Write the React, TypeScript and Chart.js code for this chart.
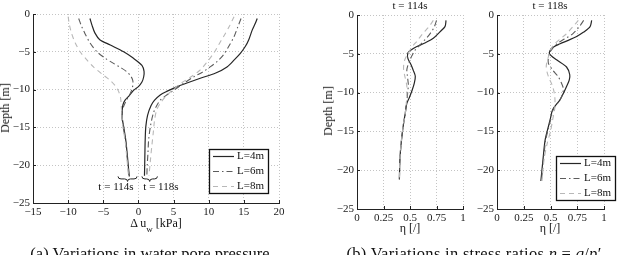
import React, { useEffect, useRef } from "react";
import { Chart, registerables } from "chart.js";
Chart.register(...registerables);

// ---------- DATA ----------
const seriesLabels = ["L=4m", "L=6m", "L=8m"];

// (a) water pore pressure variation, t = 114s
const depthA114L4 = [-0.6, -1.5, -2.5, -3.4, -4.1, -5, -5.8, -6.8, -7.6, -8.3, -9, -9.6, -10.1, -10.8, -11.4, -12, -12.7, -13.8, -14.9, -16.7, -18.5, -20, -21.5];
const duA114L4 = [-6.9, -6.6, -6.2, -5.5, -4.0, -2.1, -0.8, 0.5, 0.8, 0.75, 0.5, 0.0, -0.7, -1.3, -1.9, -2.2, -2.3, -2.3, -2.1, -1.8, -1.6, -1.45, -1.3];
const depthA114L6 = [-0.6, -1.6, -2.6, -3.8, -5, -5.8, -6.5, -7.1, -7.6, -8.2, -8.8, -9.4, -9.9, -10.6, -11.4, -12.2, -13, -14, -15, -16.7, -18.5, -20, -21.5];
const duA114L6 = [-8.5, -8.1, -7.6, -6.9, -5.9, -4.8, -3.6, -2.5, -1.7, -1.1, -0.8, -0.8, -0.9, -1.2, -1.7, -2.1, -2.3, -2.3, -2.15, -1.85, -1.65, -1.5, -1.35];
const depthA114L8 = [-0.35, -1.5, -2.6, -3.8, -5, -6, -7, -8, -8.8, -9.5, -10.1, -10.8, -11.4, -12.7, -14, -15, -16.7, -18.5, -20, -21.5];
const duA114L8 = [-10, -9.8, -9.5, -9.0, -8.3, -7.4, -6.4, -5.1, -4.0, -3.3, -2.9, -2.6, -2.5, -2.4, -2.3, -2.2, -1.9, -1.7, -1.55, -1.4];

// (a) water pore pressure variation, t = 118s
const depthA118L4 = [-0.6, -1.3, -2.1, -3.4, -4.3, -5.2, -6, -7, -7.8, -8.5, -9.1, -9.6, -10.2, -10.7, -11.4, -12.1, -13.4, -14.9, -16.7, -18.5, -20, -21.4];
const duA118L4 = [16.9, 16.6, 16.2, 15.7, 15.2, 14.5, 13.7, 12.6, 11, 8.8, 7, 5.5, 4.1, 3.1, 2.3, 1.8, 1.3, 1.05, 0.96, 0.92, 0.89, 0.86];
const depthA118L6 = [-0.6, -1.8, -3, -4.2, -5.4, -6.2, -7, -7.7, -8.3, -9.2, -10.1, -10.8, -11.4, -12.3, -13.2, -14.9, -16.7, -18.5, -20, -21.4];
const duA118L6 = [14.6, 14.1, 13.6, 12.9, 12.1, 11.3, 10.2, 9.1, 7.9, 6.4, 5, 3.9, 3.1, 2.5, 2.1, 1.7, 1.45, 1.35, 1.25, 1.2];
const depthA118L8 = [-0.35, -1.7, -3, -4.1, -5.2, -6.3, -7.4, -8.3, -9.2, -10.1, -11, -11.8, -12.7, -14, -15.8, -17.5, -19.4, -21.4];
const duA118L8 = [13.6, 12.9, 12.1, 11.4, 10.7, 9.8, 8.8, 7.5, 6, 4.8, 3.8, 3.1, 2.6, 2.3, 2.1, 1.9, 1.7, 1.5];

// (b) stress ratio, t = 114s
const depthB114L4 = [-0.7, -1.5, -2.2, -3, -3.6, -4.1, -4.5, -4.9, -5.6, -6.4, -7.1, -7.9, -8.8, -9.7, -10.6, -11.4, -12.7, -13.9, -16.1, -18.5, -21.2];
const etaB114L4 = [0.84, 0.83, 0.78, 0.72, 0.64, 0.56, 0.51, 0.48, 0.48, 0.51, 0.53, 0.55, 0.54, 0.52, 0.495, 0.47, 0.455, 0.44, 0.42, 0.405, 0.4];
const depthB114L6 = [-0.7, -1.5, -2.4, -3.5, -4.5, -5.2, -5.8, -6.5, -7.1, -7.8, -8.4, -9.1, -9.7, -10.5, -11.4, -12.7, -13.9, -16.1, -18.5, -21.2];
const etaB114L6 = [0.75, 0.73, 0.69, 0.62, 0.55, 0.52, 0.5, 0.48, 0.47, 0.475, 0.48, 0.485, 0.48, 0.475, 0.465, 0.455, 0.44, 0.42, 0.405, 0.4];
const depthB114L8 = [-0.7, -1.5, -2.4, -3.3, -4.1, -5, -5.8, -6.5, -7.1, -7.8, -8.4, -9.1, -9.7, -10.5, -11.4, -12.7, -13.9, -16.1, -18.5, -21.2];
const etaB114L8 = [0.72, 0.68, 0.62, 0.57, 0.52, 0.48, 0.45, 0.44, 0.44, 0.45, 0.46, 0.47, 0.47, 0.47, 0.465, 0.455, 0.44, 0.42, 0.405, 0.4];

// (b) stress ratio, t = 118s
const depthB118L4 = [-0.7, -1.5, -2.2, -2.8, -3.3, -3.7, -4.3, -5, -5.8, -6.7, -7.7, -8.4, -9.2, -10.1, -10.9, -12.2, -13.3, -14.4, -16.1, -18.6, -21.4];
const etaB118L4 = [0.885, 0.87, 0.81, 0.74, 0.66, 0.59, 0.51, 0.49, 0.56, 0.65, 0.68, 0.675, 0.65, 0.62, 0.59, 0.52, 0.5, 0.48, 0.45, 0.43, 0.41];
const depthB118L6 = [-0.7, -1.5, -2.4, -3.1, -3.7, -4.3, -4.9, -5.5, -6.2, -7.1, -7.9, -8.7, -9.5, -10.3, -10.9, -12.2, -13.3, -14.4, -16.1, -18.6, -21.4];
const etaB118L6 = [0.81, 0.77, 0.71, 0.63, 0.56, 0.52, 0.49, 0.48, 0.48, 0.52, 0.57, 0.6, 0.62, 0.61, 0.59, 0.525, 0.505, 0.485, 0.455, 0.435, 0.415];
const depthB118L8 = [-0.7, -1.5, -2.4, -3.1, -3.7, -4.5, -5.4, -6.7, -7.9, -9.2, -10.5, -12, -13.5, -15, -16.5, -18.6, -21.4];
const etaB118L8 = [0.76, 0.71, 0.65, 0.59, 0.54, 0.5, 0.48, 0.46, 0.48, 0.52, 0.54, 0.54, 0.52, 0.5, 0.47, 0.44, 0.42];

// axis ticks
const duTicks = [-15, -10, -5, 0, 5, 10, 15, 20];
const depthTicks = [-25, -20, -15, -10, -5, 0];
const etaTicks = [0, 0.25, 0.5, 0.75, 1];

// annotation (brace) ranges in Δu units and labels
const braceRanges = [[-2.9, -0.2], [0.5, 2.7]];
const braceLabelX = [-3.2, 3.2];
const braceLabels = ["t = 114s", "t = 118s"];
const braceDepth = -21.75;
const braceLabelDepth = -22.95;

// ---------- STYLE ----------
const FONT = "'Liberation Serif', 'Times New Roman', serif";
Chart.defaults.font.family = FONT;
const lineStyles = [
  { color: "#262626", dash: [] as number[], width: 1.2 },
  { color: "#5c5c5c", dash: [6, 3, 1.5, 3], width: 1.1 },
  { color: "#b8b8b8", dash: [5, 4], width: 1.1 },
];

function pts(xs: number[], ys: number[]) {
  return xs.map((x, i) => ({ x, y: ys[i] }));
}

function ds(label: string, idx: number, xs: number[], ys: number[]) {
  const s = lineStyles[idx];
  return {
    label,
    data: pts(xs, ys),
    showLine: true,
    borderColor: s.color,
    borderWidth: s.width,
    borderDash: s.dash,
    pointRadius: 0,
    tension: 0.3,
    fill: false,
  };
}

const fmtMinus = (v: number) => (v < 0 ? "\u2212" + Math.abs(v) : String(v));

function scales(xMin: number, xMax: number, xStep: number, yAxisW: number, xAxisH: number, xFmt: (v: number) => string) {
  const gridCommon = { color: "#c4c4c4", lineWidth: 1, drawTicks: false };
  return {
    x: {
      type: "linear" as const,
      min: xMin,
      max: xMax,
      ticks: { stepSize: xStep, callback: (v: any) => xFmt(Number(v)), font: { family: FONT, size: 11 }, color: "#222", padding: 3, maxRotation: 0, autoSkip: false },
      grid: gridCommon,
      border: { display: true, color: "#222", width: 1, dash: [1, 2] },
      afterFit: (s: any) => { s.height = xAxisH; },
    },
    y: {
      type: "linear" as const,
      min: depthTicks[0],
      max: depthTicks[depthTicks.length - 1],
      ticks: { stepSize: 5, callback: (v: any) => fmtMinus(Number(v)), font: { family: FONT, size: 11 }, color: "#222", padding: 3, autoSkip: false },
      grid: gridCommon,
      border: { display: true, color: "#222", width: 1, dash: [1, 2] },
      afterFit: (s: any) => { s.width = yAxisW; },
    },
  };
}

const tickPlugin = {
  id: "inwardTicks",
  afterDraw(chart: any) {
    const { ctx, chartArea } = chart;
    const xs = chart.scales.x;
    const ys = chart.scales.y;
    ctx.save();
    ctx.strokeStyle = "#222";
    ctx.lineWidth = 1;
    ctx.beginPath();
    xs.ticks.forEach((t: any) => {
      const px = Math.round(xs.getPixelForValue(t.value)) + 0.5;
      ctx.moveTo(px, chartArea.bottom);
      ctx.lineTo(px, chartArea.bottom - 3);
    });
    ys.ticks.forEach((t: any) => {
      const py = Math.round(ys.getPixelForValue(t.value)) + 0.5;
      ctx.moveTo(chartArea.left, py);
      ctx.lineTo(chartArea.left + 3, py);
    });
    ctx.stroke();
    ctx.restore();
  },
};

function legendPlugin(box: { x: number; y: number; w: number; h: number }) {
  return {
    id: "boxLegend",
    afterDraw(chart: any) {
      const { ctx } = chart;
      ctx.save();
      ctx.fillStyle = "#fff";
      ctx.fillRect(box.x, box.y, box.w, box.h);
      ctx.strokeStyle = "#111";
      ctx.lineWidth = 1.3;
      ctx.strokeRect(box.x + 0.5, box.y + 0.5, box.w, box.h);
      const rowH = box.h / 3;
      seriesLabels.forEach((lab, i) => {
        const s = lineStyles[i];
        const cy = Math.round(box.y + rowH * (i + 0.5)) + 0.5;
        ctx.strokeStyle = s.color;
        ctx.lineWidth = s.width;
        ctx.setLineDash(s.dash);
        ctx.beginPath();
        ctx.moveTo(box.x + 4, cy);
        ctx.lineTo(box.x + 25, cy);
        ctx.stroke();
        ctx.setLineDash([]);
        ctx.fillStyle = "#111";
        ctx.font = `11px ${FONT}`;
        ctx.textAlign = "left";
        ctx.textBaseline = "middle";
        ctx.fillText(lab, box.x + 28, cy);
      });
      ctx.restore();
    },
  };
}

const bracePlugin = {
  id: "braces",
  afterDraw(chart: any) {
    const { ctx } = chart;
    const xs = chart.scales.x;
    const ys = chart.scales.y;
    ctx.save();
    ctx.strokeStyle = "#222";
    ctx.lineWidth = 1;
    const y0 = ys.getPixelForValue(braceDepth) - 2;
    const h = 5;
    braceRanges.forEach(([a, b]) => {
      const x1 = xs.getPixelForValue(a);
      const x2 = xs.getPixelForValue(b);
      const xm = (x1 + x2) / 2;
      const r = 3;
      const ym = y0 + h / 2;
      ctx.beginPath();
      ctx.moveTo(x1, y0);
      ctx.quadraticCurveTo(x1, ym, x1 + r, ym);
      ctx.lineTo(xm - r, ym);
      ctx.quadraticCurveTo(xm, ym, xm, y0 + h);
      ctx.quadraticCurveTo(xm, ym, xm + r, ym);
      ctx.lineTo(x2 - r, ym);
      ctx.quadraticCurveTo(x2, ym, x2, y0);
      ctx.stroke();
    });
    ctx.fillStyle = "#111";
    ctx.font = `11px ${FONT}`;
    ctx.textAlign = "center";
    ctx.textBaseline = "middle";
    braceLabels.forEach((t, i) => {
      ctx.fillText(t, xs.getPixelForValue(braceLabelX[i]), ys.getPixelForValue(braceLabelDepth));
    });
    ctx.restore();
  },
};

type Box = { left: number; top: number; width: number; height: number };

function PlotCanvas({ box, build }: { box: Box; build: () => any }) {
  const ref = useRef<HTMLCanvasElement | null>(null);
  useEffect(() => {
    const chart = new Chart(ref.current as HTMLCanvasElement, build());
    return () => chart.destroy();
  }, []);
  return (
    <canvas
      ref={ref}
      width={box.width}
      height={box.height}
      style={{ position: "absolute", left: box.left, top: box.top, width: box.width, height: box.height, display: "block" }}
    />
  );
}

function baseOptions(padding: any, sc: any) {
  return {
    responsive: false,
    animation: false as const,
    devicePixelRatio: 1,
    layout: { padding },
    scales: sc,
    plugins: { legend: { display: false }, tooltip: { enabled: false }, title: { display: false } },
  };
}

const boxA: Box = { left: 0, top: 0, width: 300, height: 235 };
const boxB1: Box = { left: 330, top: 0, width: 140, height: 235 };
const boxB2: Box = { left: 470, top: 0, width: 147, height: 235 };

function buildA() {
  return {
    type: "scatter",
    data: {
      datasets: [
        ds(seriesLabels[0], 0, duA114L4, depthA114L4),
        ds(seriesLabels[1], 1, duA114L6, depthA114L6),
        ds(seriesLabels[2], 2, duA114L8, depthA114L8),
        ds(seriesLabels[0], 0, duA118L4, depthA118L4),
        ds(seriesLabels[1], 1, duA118L6, depthA118L6),
        ds(seriesLabels[2], 2, duA118L8, depthA118L8),
      ].reverse(),
    },
    options: baseOptions({ left: 0, top: 14, right: 21, bottom: 0 }, scales(duTicks[0], duTicks[duTicks.length - 1], 5, 33, 32, fmtMinus)),
    plugins: [tickPlugin, bracePlugin, legendPlugin({ x: 209, y: 149, w: 59, h: 44 })],
  };
}

const etaFmt = (v: number) => String(v);

function buildB1() {
  return {
    type: "scatter",
    data: {
      datasets: [
        ds(seriesLabels[0], 0, etaB114L4, depthB114L4),
        ds(seriesLabels[1], 1, etaB114L6, depthB114L6),
        ds(seriesLabels[2], 2, etaB114L8, depthB114L8),
      ].reverse(),
    },
    options: baseOptions({ left: 0, top: 15, right: 7, bottom: 0 }, scales(etaTicks[0], etaTicks[etaTicks.length - 1], 0.25, 27, 26, etaFmt)),
    plugins: [tickPlugin],
  };
}

function buildB2() {
  return {
    type: "scatter",
    data: {
      datasets: [
        ds(seriesLabels[0], 0, etaB118L4, depthB118L4),
        ds(seriesLabels[1], 1, etaB118L6, depthB118L6),
        ds(seriesLabels[2], 2, etaB118L8, depthB118L8),
      ].reverse(),
    },
    options: baseOptions({ left: 0, top: 15, right: 13, bottom: 0 }, scales(etaTicks[0], etaTicks[etaTicks.length - 1], 0.25, 27, 26, etaFmt)),
    plugins: [tickPlugin, legendPlugin({ x: 86, y: 156, w: 59, h: 44 })],
  };
}

const txt: React.CSSProperties = { position: "absolute", fontFamily: FONT, color: "#111", whiteSpace: "nowrap", lineHeight: 1 };

export default function App() {
  return (
    <div style={{ position: "absolute", left: 0, top: 0, width: 617, height: 255, overflow: "hidden", background: "#fff" }}>
      <PlotCanvas box={boxA} build={buildA} />
      <PlotCanvas box={boxB1} build={buildB1} />
      <PlotCanvas box={boxB2} build={buildB2} />

      {/* axis titles */}
      <div style={{ ...txt, fontSize: 12, left: 5, top: 108, transform: "translate(-50%, -50%) rotate(-90deg)" }}>Depth [m]</div>
      <div style={{ ...txt, fontSize: 12, left: 328, top: 111, transform: "translate(-50%, -50%) rotate(-90deg)" }}>Depth [m]</div>
      <div style={{ ...txt, fontSize: 12, left: 156, top: 217, transform: "translateX(-50%)" }}>
        Δ u<span style={{ fontSize: 9, position: "relative", top: 5 }}>w</span> [kPa]
      </div>
      <div style={{ ...txt, fontSize: 12, left: 410, top: 222, transform: "translateX(-50%)" }}>η [/]</div>
      <div style={{ ...txt, fontSize: 12, left: 550, top: 222, transform: "translateX(-50%)" }}>η [/]</div>

      {/* panel titles */}
      <div style={{ ...txt, fontSize: 11, left: 410, top: 0, transform: "translateX(-50%)" }}>t = 114s</div>
      <div style={{ ...txt, fontSize: 11, left: 550, top: 0, transform: "translateX(-50%)" }}>t = 118s</div>

      {/* captions */}
      <div style={{ ...txt, fontSize: 16.5, left: 150, top: 246, transform: "translateX(-50%)" }}>(a) Variations in water pore pressure</div>
      <div style={{ ...txt, fontSize: 16.5, left: 474, top: 246, transform: "translateX(-50%)", letterSpacing: 0.3 }}>
        (b) Variations in stress ratios <i>η</i> = <i>q</i>/<i>p</i>′
      </div>
    </div>
  );
}
